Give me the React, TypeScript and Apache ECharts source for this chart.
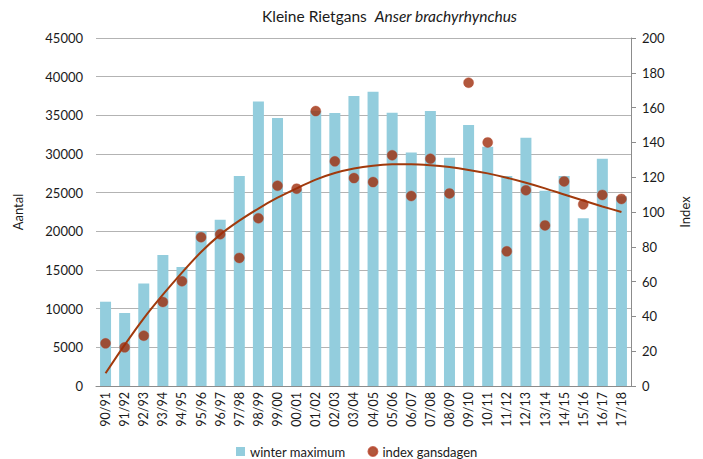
import React, { useEffect, useRef } from "react";
import * as echarts from "echarts";

const categories = [
  "90/91", "91/92", "92/93", "93/94", "94/95", "95/96", "96/97", "97/98",
  "98/99", "99/00", "00/01", "01/02", "02/03", "03/04", "04/05", "05/06",
  "06/07", "07/08", "08/09", "09/10", "10/11", "11/12", "12/13", "13/14",
  "14/15", "15/16", "16/17", "17/18",
];

const winterMaximum = [
  10900, 9450, 13250, 16950, 15400, 20000, 21500, 27150,
  36800, 34650, 25400, 35600, 35300, 37500, 38050, 35350,
  30200, 35550, 29500, 33750, 30950, 27150, 32100, 25250,
  27150, 21700, 29400, 24550,
];

const indexGansdagen = [
  24.5, 22.2, 28.9, 48.3, 60.2, 85.5, 87.2, 73.6,
  96.4, 115.1, 113.4, 158.0, 129.1, 119.5, 117.2, 132.6,
  109.2, 130.6, 110.7, 174.3, 140.0, 77.4, 112.5, 92.3,
  117.6, 104.4, 109.8, 107.5,
];

const trendIndex = [
  7.3, 23.6, 38.9, 52.5, 65.2, 77.0, 87.0, 95.0,
  102.0, 108.2, 113.6, 118.6, 122.4, 125.0, 126.6, 127.4,
  127.5, 126.9, 125.8, 124.2, 122.2, 119.7, 116.8, 113.6,
  110.1, 106.6, 103.2, 100.0,
];

const leftTicks = { min: 0, max: 45000, interval: 5000 };
const rightTicks = { min: 0, max: 200, interval: 20 };

const FONT = "Lato, 'Open Sans', sans-serif";
const TEXT = "#1a1a1a";

export default function App() {
  const ref = useRef<HTMLDivElement>(null);

  useEffect(() => {
    if (!ref.current) return;
    const chart = echarts.init(ref.current, null, { renderer: "svg" });
    chart.setOption({
      animation: false,
      textStyle: { fontFamily: FONT, color: TEXT },
      title: {
        text: "{r|Kleine Rietgans  }{i|Anser brachyrhynchus}",
        left: 257,
        top: 3,
        textStyle: {
          fontWeight: "normal",
          rich: {
            r: { fontFamily: FONT, fontSize: 15.5, color: TEXT, fontWeight: "normal" },
            i: { fontFamily: FONT, fontSize: 15.5, color: TEXT, fontStyle: "italic", fontWeight: "normal" },
          },
        },
      },
      legend: {
        top: 440,
        left: 231,
        itemGap: 22,
        itemWidth: 9,
        itemHeight: 9,
        textStyle: { fontFamily: FONT, fontSize: 13, color: TEXT },
        data: [
          { name: "winter maximum", icon: "rect" },
          { name: "index gansdagen", icon: "circle" },
        ],
      },
      grid: { left: 96, right: 72, top: 38, bottom: 73, containLabel: false },
      xAxis: {
        type: "category",
        data: categories,
        axisLine: { show: true, lineStyle: { color: "#8c8c8c", width: 1 } },
        axisTick: { show: false },
        axisLabel: {
          rotate: 90,
          interval: 0,
          margin: 6,
          fontFamily: FONT,
          fontSize: 12.5,
          color: TEXT,
        },
      },
      yAxis: [
        {
          type: "value",
          min: leftTicks.min,
          max: leftTicks.max,
          interval: leftTicks.interval,
          name: "Aantal",
          nameLocation: "middle",
          nameRotate: 90,
          nameGap: 72,
          nameTextStyle: { fontFamily: FONT, fontSize: 13, color: TEXT },
          axisLine: { show: false },
          axisTick: { show: false },
          axisLabel: {
            margin: 13,
            fontFamily: FONT,
            fontSize: 13,
            color: TEXT,
            formatter: (v: number) => String(v),
          },
          splitLine: { show: true, lineStyle: { color: "#b3b3b3", width: 1 } },
        },
        {
          type: "value",
          position: "right",
          min: rightTicks.min,
          max: rightTicks.max,
          interval: rightTicks.interval,
          name: "Index",
          nameLocation: "middle",
          nameRotate: 90,
          nameGap: 47,
          nameTextStyle: { fontFamily: FONT, fontSize: 13, color: TEXT },
          axisLine: { show: true, lineStyle: { color: "#8c8c8c", width: 1 } },
          axisTick: { show: true, length: 5, lineStyle: { color: "#8c8c8c" } },
          axisLabel: {
            margin: 11,
            fontFamily: FONT,
            fontSize: 13,
            color: TEXT,
            formatter: (v: number) => String(v),
          },
          splitLine: { show: false },
        },
      ],
      series: [
        {
          name: "winter maximum",
          type: "bar",
          yAxisIndex: 0,
          data: winterMaximum,
          barWidth: 11,
          itemStyle: { color: "#93cddd" },
        },
        {
          name: "trend",
          type: "line",
          yAxisIndex: 1,
          data: trendIndex,
          smooth: 0.3,
          showSymbol: false,
          lineStyle: { color: "#a13a0c", width: 2 },
          z: 3,
        },
        {
          name: "index gansdagen",
          type: "scatter",
          yAxisIndex: 1,
          data: indexGansdagen,
          symbol: "circle",
          symbolSize: 10,
          itemStyle: { color: "#9e2d0b", borderColor: "#b8472e", borderWidth: 0.5 },
          z: 4,
        },
      ],
    });
    return () => chart.dispose();
  }, []);

  return (
    <div
      ref={ref}
      style={{ position: "absolute", left: 0, top: 0, width: 703, height: 459 }}
    />
  );
}
